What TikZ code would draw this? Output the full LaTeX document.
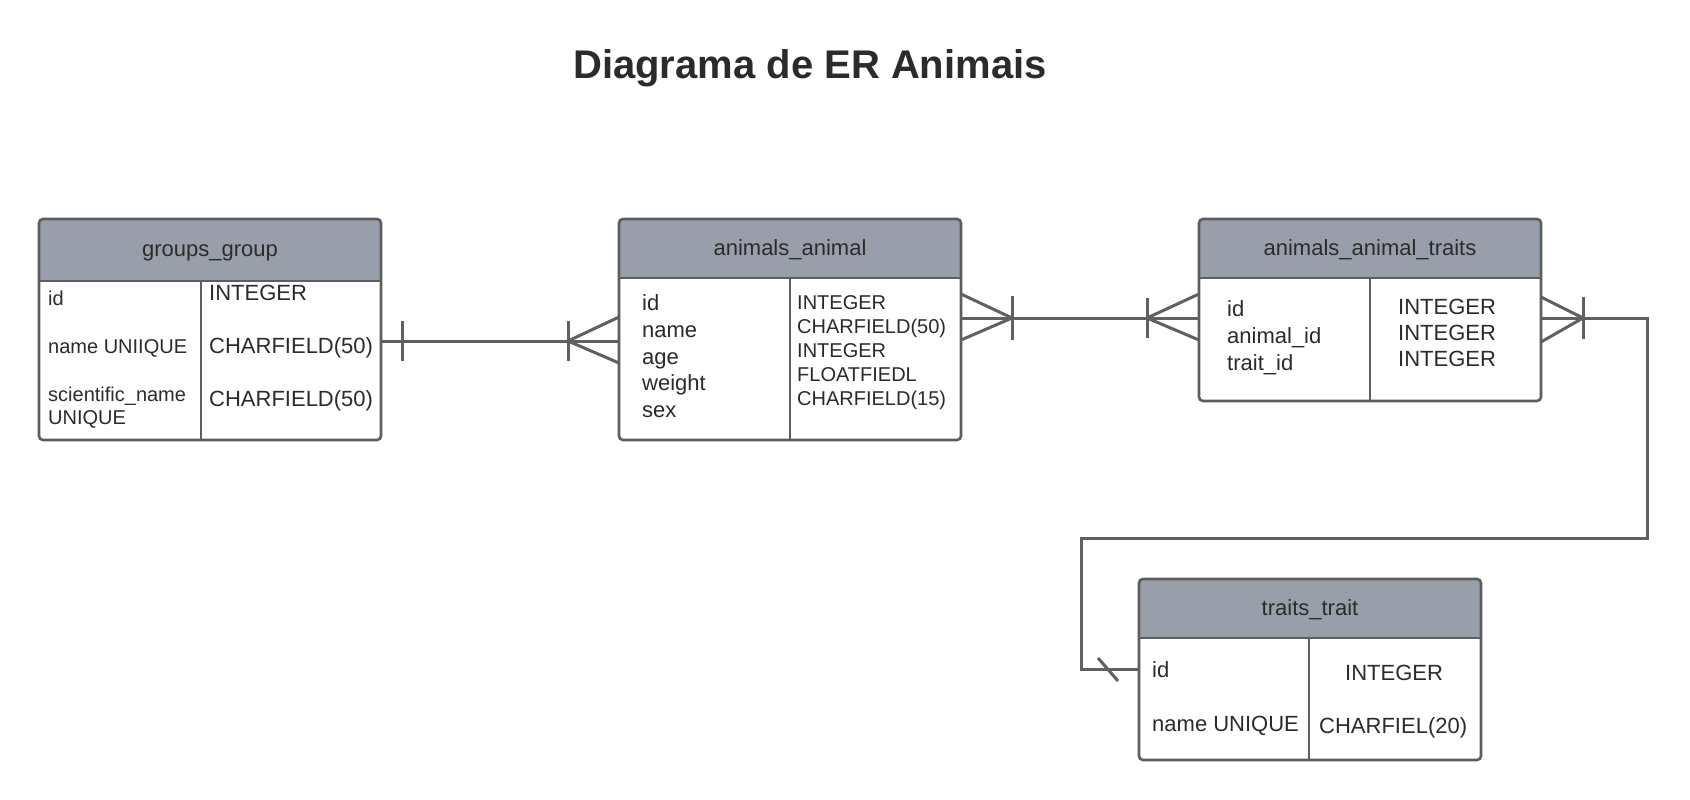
\documentclass[tikz,border=0pt]{standalone}
\usepackage{fontspec}
\setmainfont{Liberation Sans}
\definecolor{hdr}{HTML}{999FAA}
\definecolor{bd}{HTML}{5E5E5E}
\definecolor{txt}{HTML}{2B2B2B}
\definecolor{ln}{HTML}{606060}
\tikzset{
  tbl/.style n args={3}{draw=bd, line width=2.6pt, rounded corners=4pt, fill=hdr,
    anchor=north west, minimum width=#1, minimum height=#2, inner sep=0pt, outer sep=0pt,
    path picture={
      \fill[white, sharp corners] ([yshift=-#3]path picture bounding box.north west) rectangle (path picture bounding box.south east);
      \draw[bd, line width=2.6pt, sharp corners] ([yshift=-#3]path picture bounding box.north west) -- ([yshift=-#3]path picture bounding box.north east);
    }},
  divline/.style={draw=bd, line width=2.6pt},
  hd/.style={font=\fontsize{22}{26}\selectfont, text=txt, anchor=base, inner sep=0pt},
  fa/.style={font=\fontsize{20}{24}\selectfont, text=txt, anchor=base west, inner sep=0pt},
  fb/.style={font=\fontsize{22}{26}\selectfont, text=txt, anchor=base west, inner sep=0pt},
  conn/.style={draw=ln, line width=3pt},
  ttl/.style={font=\fontsize{40}{48}\selectfont\bfseries, text=txt, anchor=base, inner sep=0pt}
}
\begin{document}
\begin{tikzpicture}[x=1pt,y=-1pt]
\useasboundingbox[fill=white] (0,0) rectangle (1690,800);

\node[ttl] (title) at (810,78) {Diagrama de ER Animais};

% tables
\node[tbl={342pt}{221pt}{62pt}] (gg) at (39,219) {};
\node[tbl={342pt}{221pt}{59pt}] (aa) at (619,219) {};
\node[tbl={342pt}{182pt}{59pt}] (at) at (1199,219) {};
\node[tbl={342pt}{181pt}{59pt}] (tt) at (1139,579) {};

\draw[divline] ([xshift=162pt,yshift=-62pt]gg.north west) -- ([xshift=162pt]gg.south west);
\draw[divline] ([xshift=171pt,yshift=-59pt]aa.north west) -- ([xshift=171pt]aa.south west);
\draw[divline] ([xshift=171pt,yshift=-59pt]at.north west) -- ([xshift=171pt]at.south west);
\draw[divline] ([xshift=170pt,yshift=-59pt]tt.north west) -- ([xshift=170pt]tt.south west);

% headers
\node[hd] (gg-h) at (210,256) {groups\_group};
\node[hd] (aa-h) at (790,255) {animals\_animal};
\node[hd] (at-h) at (1370,255) {animals\_animal\_traits};
\node[hd] (tt-h) at (1310,615) {traits\_trait};

% groups_group
\node[fa] (gg-l1) at (48,305) {id};
\node[fa] (gg-l2) at (48,353) {name UNIIQUE};
\node[fa] (gg-l3) at (48,401) {scientific\_name};
\node[fa] (gg-l4) at (48,424) {UNIQUE};
\node[fb] (gg-r1) at (209,300) {INTEGER};
\node[fb] (gg-r2) at (209,353) {CHARFIELD(50)};
\node[fb] (gg-r3) at (209,406) {CHARFIELD(50)};

% animals_animal
\node[fb] (aa-l1) at (642,310.5) {id};
\node[fb] (aa-l2) at (642,337) {name};
\node[fb] (aa-l3) at (642,364) {age};
\node[fb] (aa-l4) at (642,390.5) {weight};
\node[fb] (aa-l5) at (642,417) {sex};
\node[fa] (aa-r1) at (797,309) {INTEGER};
\node[fa] (aa-r2) at (797,333) {CHARFIELD(50)};
\node[fa] (aa-r3) at (797,357) {INTEGER};
\node[fa] (aa-r4) at (797,381) {FLOATFIEDL};
\node[fa] (aa-r5) at (797,405) {CHARFIELD(15)};

% animals_animal_traits
\node[fb] (at-l1) at (1227,316) {id};
\node[fb] (at-l2) at (1227,343) {animal\_id};
\node[fb] (at-l3) at (1227,370) {trait\_id};
\node[fb] (at-r1) at (1398,314) {INTEGER};
\node[fb] (at-r2) at (1398,340) {INTEGER};
\node[fb] (at-r3) at (1398,366) {INTEGER};

% traits_trait
\node[fb] (tt-l1) at (1152,677) {id};
\node[fb] (tt-l2) at (1152,731) {name UNIQUE};
\node[fb] (tt-r1) at (1345,680) {INTEGER};
\node[fb] (tt-r2) at (1319,733) {CHARFIEL(20)};

% connector 1: groups_group -> animals_animal
\draw[conn] ([yshift=-11.5pt]gg.east) -- ([yshift=-11.5pt]aa.west);
\coordinate (m1) at (402,341);
\draw[conn] ([yshift=20pt]m1) -- ([yshift=-20pt]m1);
\coordinate (m2) at (568,341);
\draw[conn] ([yshift=20pt]m2) -- ([yshift=-20pt]m2);
\draw[conn] ([yshift=12.5pt]aa.west) -- (m2) -- ([yshift=-33.5pt]aa.west);

% connector 2: animals_animal -> animals_animal_traits
\draw[conn] ([yshift=11.5pt]aa.east) -- ([yshift=-8pt]at.west);
\coordinate (m3) at (1012,318);
\draw[conn] ([yshift=22pt]m3) -- ([yshift=-22pt]m3);
\draw[conn] ([yshift=35.5pt]aa.east) -- (m3) -- ([yshift=-10.5pt]aa.east);
\coordinate (m4) at (1147,318);
\draw[conn] ([yshift=20pt]m4) -- ([yshift=-20pt]m4);
\draw[conn] ([yshift=16pt]at.west) -- (m4) -- ([yshift=-30pt]at.west);

% connector 3: animals_animal_traits -> traits_trait
\coordinate (m5) at (1583,318);
\coordinate (r1) at (1647,318);
\coordinate (r2) at (1647,538);
\coordinate (r3) at (1081,538);
\draw[conn] ([yshift=-8pt]at.east) -- (r1) -- (r2) -- (r3) |- (tt.west);
\draw[conn] ([yshift=21pt]m5) -- ([yshift=-21pt]m5);
\draw[conn] ([yshift=13pt]at.east) -- (m5) -- ([yshift=-32pt]at.east);
\coordinate (m6) at (1108,669.5);
\draw[conn] ([shift={(-10pt,11.5pt)}]m6) -- ([shift={(10pt,-11.5pt)}]m6);
\end{tikzpicture}
\end{document}
